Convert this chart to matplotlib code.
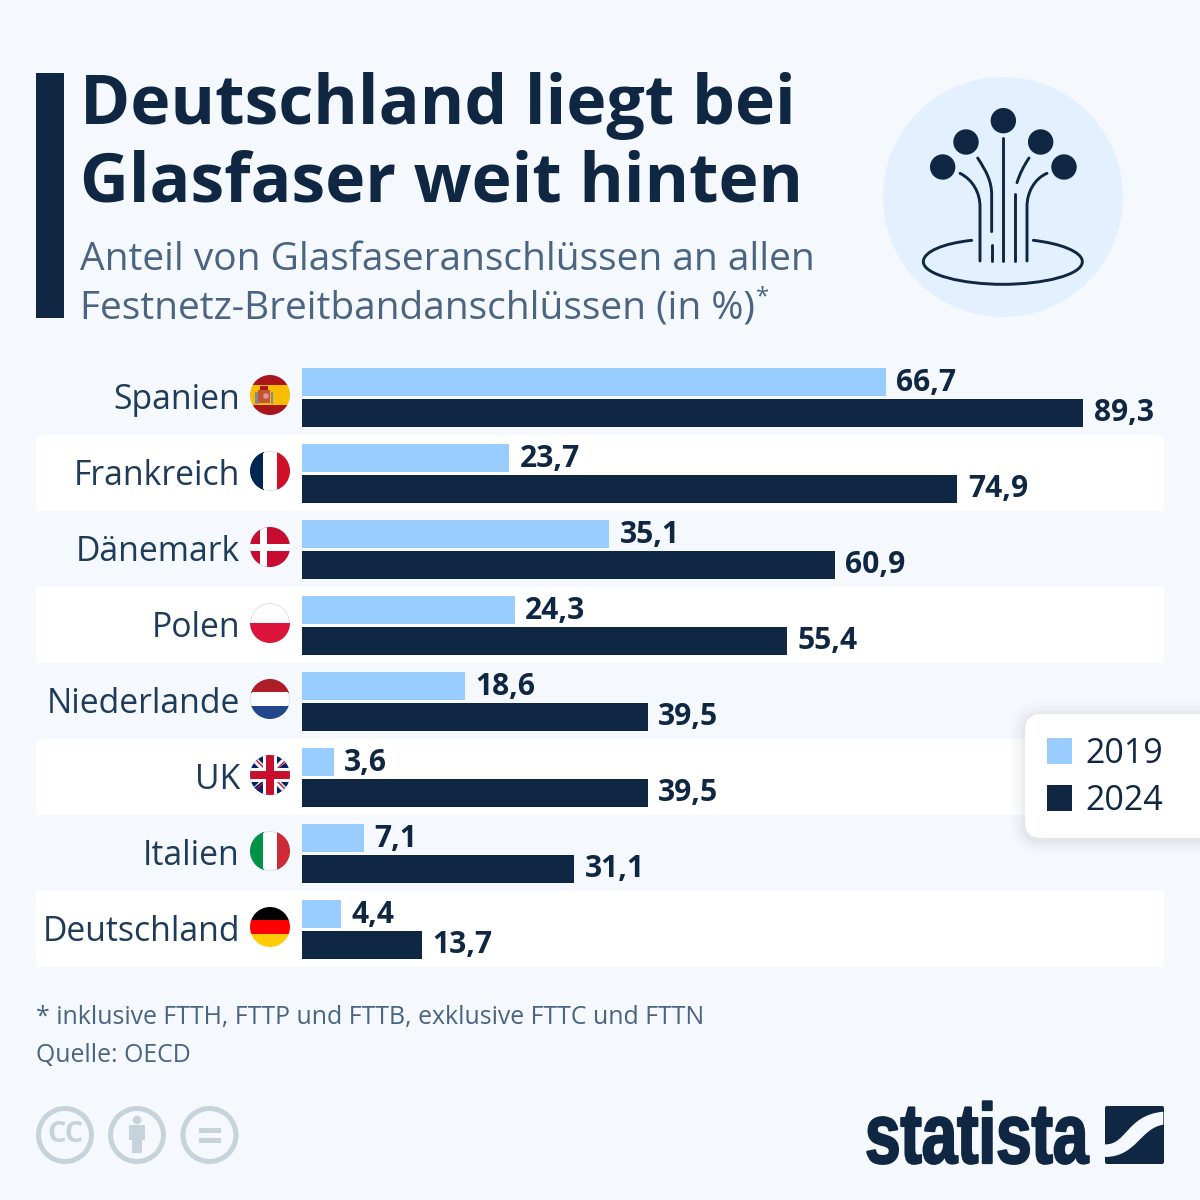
import matplotlib

matplotlib.use("Agg")
import matplotlib.pyplot as plt
from matplotlib.patches import Circle, FancyBboxPatch, PathPatch, Polygon, Rectangle
from matplotlib.patheffects import AbstractPathEffect
from matplotlib.path import Path
from matplotlib.transforms import Affine2D

countries = ["Spanien", "Frankreich", "Dänemark", "Polen", "Niederlande", "UK", "Italien", "Deutschland"]
values_2019 = [66.7, 23.7, 35.1, 24.3, 18.6, 3.6, 7.1, 4.4]
values_2024 = [89.3, 74.9, 60.9, 55.4, 39.5, 39.5, 31.1, 13.7]
years = ["2019", "2024"]

BG = "#f5f8fc"
NAVY = "#0f2742"
LIGHT = "#99ccff"
SUB = "#4a6482"
GREY = "#c7d3db"
PX = 0.72  # px to pt at dpi 100

plt.rcParams["font.family"] = ["Open Sans", "DejaVu Sans"]
fig = plt.figure(figsize=(12, 12), dpi=100, facecolor=BG)


class Squeeze(AbstractPathEffect):
    """Squeeze a text horizontally around a pixel x and thicken it a little."""

    def __init__(self, x0, sx, lw):
        super().__init__()
        self.x0, self.sx, self.lw = x0, sx, lw

    def draw_path(self, renderer, gc, tpath, affine, rgbFace):
        tr = affine + Affine2D().translate(-self.x0, 0).scale(self.sx, 1).translate(self.x0, 0)
        gc0 = renderer.new_gc()
        gc0.copy_properties(gc)
        gc0.set_foreground(rgbFace)
        gc0.set_linewidth(self.lw)
        renderer.draw_path(gc0, tpath, tr, rgbFace)
        gc0.restore()


def pixel_axes(zorder):
    a = fig.add_axes([0, 0, 1, 1], zorder=zorder)
    a.set_xlim(0, 1200)
    a.set_ylim(1200, 0)
    a.axis("off")
    return a


back = pixel_axes(0)
top = pixel_axes(2)

# white bands behind every second row
for i in range(1, 8, 2):
    back.add_patch(Rectangle((36, 359 + 76 * i), 1128, 76, fc="white", ec="none"))

# bars
ax = fig.add_axes([302 / 1200, (1200 - 967) / 1200, 862 / 1200, 608 / 1200], zorder=1)
ax.patch.set_alpha(0)
ax.set_xlim(0, 862 / 8.75)
ax.set_ylim(7.5, -0.5)
ax.axis("off")
rows = list(range(len(countries)))
ax.barh([r - 15 / 76 for r in rows], values_2019, height=28 / 76, color=LIGHT)
ax.barh([r + 16 / 76 for r in rows], values_2024, height=28 / 76, color=NAVY)
for r, a, b in zip(rows, values_2019, values_2024):
    for val, off in ((a, -14 / 76), (b, 16 / 76)):
        ax.annotate(f"{val:.1f}".replace(".", ","), (val, r + off), xytext=(10.5 * PX, 0),
                    textcoords="offset points", va="center", ha="left",
                    fontsize=30 * PX, fontweight="bold", color=NAVY)

# header
top.add_patch(Rectangle((36, 73), 28, 245, fc=NAVY, ec="none"))
top.text(80, 124, "Deutschland liegt bei", fontsize=68 * PX, fontweight="bold", color=NAVY, va="baseline")
top.text(80, 202, "Glasfaser weit hinten", fontsize=67.8 * PX, fontweight="bold", color=NAVY, va="baseline")
top.text(80, 270, "Anteil von Glasfaseranschlüssen an allen", fontsize=38.85 * PX, color=SUB, va="baseline")
top.text(80, 318, "Festnetz-Breitbandanschlüssen (in %)", fontsize=38.85 * PX, color=SUB, va="baseline")
top.text(756, 303, "*", fontsize=24 * PX, color=SUB, va="baseline")

# icon
top.add_patch(Circle((1003, 197), 120, fc="#e3f0ff", ec="none"))
for x, y in [(400, 182), (288, 246), (512, 246), (218, 321), (582, 321)]:
    top.add_patch(Circle((870 + x / 3, 60 + y / 3), 12.7, fc=NAVY, ec="none"))


def fibre(verts, codes):
    pts = [(870 + x / 3, 60 + y / 3) for x, y in verts]
    top.add_patch(PathPatch(Path(pts, codes), fc="none", ec=NAVY, lw=2.1, capstyle="round"))


M, L, C = Path.MOVETO, Path.LINETO, Path.CURVE4
fibre([(400, 235), (400, 603)], [M, L])
fibre([(270, 340), (310, 360), (330, 400), (330, 440), (330, 603)], [M, C, C, C, L])
fibre([(323, 294), (350, 335), (365, 365), (365, 405), (365, 515)], [M, C, C, C, L])
fibre([(365, 555), (365, 603)], [M, L])
fibre([(435, 403), (435, 603)], [M, L])
fibre([(441, 368), (450, 340), (460, 320), (477, 294)], [M, C, C, C])
fibre([(531, 340), (495, 355), (471, 395), (471, 440), (471, 603)], [M, C, C, C, L])
fibre([(305, 541), (220, 550), (160, 575), (160, 605), (160, 645), (280, 673), (398, 673),
       (520, 673), (637, 645), (637, 605), (637, 575), (570, 550), (490, 541)],
      [M, C, C, C, C, C, C, C, C, C, C, C, C])


# flags: white parts stop short of the edge so the grey ring shows only there
def flag(i, shapes, ring=True):
    cy = 395 + 76 * i
    if ring:
        top.add_patch(Circle((270, cy), 19.8, fc="#d6dae2", ec="none"))
    for s in shapes:
        top.add_patch(s)
        white = tuple(s.get_facecolor()[:3]) == (1.0, 1.0, 1.0)
        s.set_clip_path(Circle((270, cy), 19 if white and ring else 20, transform=top.transData))


def stripes_h(i, cols, fracs=None):
    cy = 395 + 76 * i
    fracs = fracs or [1 / len(cols)] * len(cols)
    out, y = [], cy - 20
    for c, f in zip(cols, fracs):
        out.append(Rectangle((250, y), 40, 40 * f + 0.3, fc=c, ec="none"))
        y += 40 * f
    return out


def stripes_v(i, cols):
    cy = 395 + 76 * i
    return [Rectangle((250 + k * 40 / 3, cy - 20), 40 / 3 + 0.3, 40, fc=c, ec="none") for k, c in enumerate(cols)]


flag(0, stripes_h(0, ["#aa151b", "#f8bd00", "#aa151b"], [0.25, 0.5, 0.25])
     + [Rectangle((258, 390), 12, 13, fc="#c2552c", ec="none"),
        Rectangle((255, 392), 2.5, 12, fc="#7f8ba8", ec="none"),
        Rectangle((270.5, 392), 2.5, 12, fc="#7f8ba8", ec="none"),
        Rectangle((260, 386), 8, 4, fc="#ad1519", ec="none"),
        Circle((266, 396), 2.8, fc="#e58fa8", ec="none")], ring=False)
flag(1, stripes_v(1, ["#002654", "white", "#ce1126"]))
cy2 = 395 + 76 * 2
flag(2, [Rectangle((250, cy2 - 20), 40, 40, fc="#c60c30", ec="none"),
         Rectangle((260, cy2 - 20), 7, 40, fc="white", ec="none"),
         Rectangle((250, cy2 - 3.5), 40, 7, fc="white", ec="none")], ring=False)
flag(3, stripes_h(3, ["white", "#dc143c"]))
flag(4, stripes_h(4, ["#ae1c28", "white", "#21468b"]))
cy5 = 395 + 76 * 5
uk = [Rectangle((250, cy5 - 20), 40, 40, fc="#012169", ec="none")]
for dy in (1, -1):
    uk.append(Polygon([(250, cy5 - 20 * dy - 4), (250, cy5 - 20 * dy + 4 * dy), (286, cy5 + 20 * dy),
                       (290, cy5 + 20 * dy), (290, cy5 + 16 * dy)], fc="white", ec="none"))
    uk.append(Polygon([(250, cy5 - 20 * dy), (252, cy5 - 20 * dy), (290, cy5 + 18 * dy), (290, cy5 + 20 * dy)],
                      fc="#c8102e", ec="none"))
uk += [Rectangle((250, cy5 - 7), 40, 14, fc="white", ec="none"),
       Rectangle((263, cy5 - 20), 14, 40, fc="white", ec="none"),
       Rectangle((250, cy5 - 4), 40, 8, fc="#c8102e", ec="none"),
       Rectangle((266, cy5 - 20), 8, 40, fc="#c8102e", ec="none")]
flag(5, uk, ring=False)
flag(6, stripes_v(6, ["#009246", "white", "#ce2b37"]))
flag(7, stripes_h(7, ["black", "#ff0000", "#ffcc00"]), ring=False)

# country names
for i, name in enumerate(countries):
    top.text(240, 396 + 76 * i, name, ha="right", va="center_baseline", fontsize=33.8 * PX, color="#1f3b5a")

# legend box with soft shadow
for grow, alpha in [(14, 0.012), (10, 0.016), (6, 0.022), (3, 0.03)]:
    top.add_patch(FancyBboxPatch((1025 - grow, 714 - grow + 2), 220 + grow, 124 + 2 * grow,
                                 boxstyle=f"round,pad=0,rounding_size={16 + grow}", fc="#20364f", ec="none", alpha=alpha))
top.add_patch(FancyBboxPatch((1025, 714), 220, 124, boxstyle="round,pad=0,rounding_size=16", fc="white", ec="none"))
for y0, col, yr in zip((738, 785), (LIGHT, NAVY), years):
    top.add_patch(Rectangle((1046.5, y0), 25.5, 25.5, fc=col, ec="none"))
    top.text(1085, y0 + 12, yr, va="center_baseline", fontsize=34 * PX, color=NAVY)

# notes
top.text(36, 1024, "* inklusive FTTH, FTTP und FTTB, exklusive FTTC und FTTN", fontsize=24.9 * PX, color=SUB, va="baseline")
top.text(36, 1062, "Quelle: OECD", fontsize=24.9 * PX, color=SUB, va="baseline")

# licence icons
for cx in (65, 137, 209.5):
    top.add_patch(Circle((cx, 1135), 26.5, fc="none", ec=GREY, lw=5 * PX))
top.text(65, 1135, "CC", ha="center", va="center", fontsize=29 * PX, fontweight="bold", color=GREY)
top.add_patch(Circle((137, 1120), 4.3, fc=GREY, ec="none"))
top.add_patch(Polygon([(129, 1125), (145, 1125), (145, 1140), (142, 1140), (142, 1153), (132, 1153), (132, 1140), (129, 1140)],
                      fc=GREY, ec="none"))
top.add_patch(Rectangle((199, 1128), 21.5, 5, fc=GREY, ec="none"))
top.add_patch(Rectangle((199, 1137.5), 21.5, 5, fc=GREY, ec="none"))

# statista logo, no narrow bold font is installed so the text is squeezed
logo = top.text(1088, 1163, "statista", ha="right", va="baseline", fontsize=85 * PX, fontweight="bold",
                family="Liberation Sans", color=NAVY)
logo.set_path_effects([Squeeze(1088, 0.75, 1.6)])
top.add_patch(FancyBboxPatch((1105, 1106), 59, 58, boxstyle="round,pad=0,rounding_size=2", fc=NAVY, ec="none"))
lv = [(765, 163), (830, 165), (830, 75), (940, 65), (940, 104), (870, 115), (860, 200), (765, 201), (765, 163)]
lc = [M, C, C, C, L, C, C, C, Path.CLOSEPOLY]
top.add_patch(PathPatch(Path([(850 + x / 3, 1090 + y / 3) for x, y in lv], lc), fc=BG, ec="none"))

fig.savefig("out.png", dpi=100, facecolor=BG)
